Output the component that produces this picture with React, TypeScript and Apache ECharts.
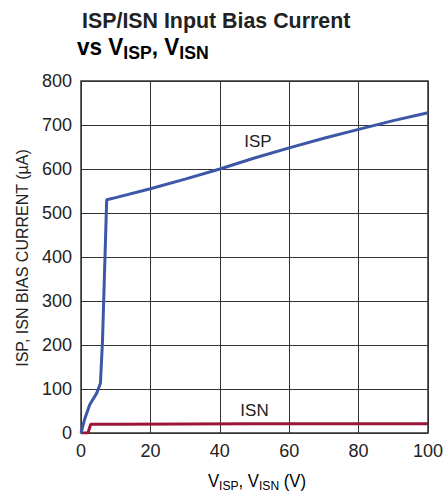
import React, { useEffect, useRef } from "react";
import * as echarts from "echarts";

const ispX = [0, 1, 2.5, 4.5, 5.6, 6.2, 7.4, 10, 20, 30, 40, 50, 60, 70, 80, 90, 100];
const ispY = [0, 30, 64, 90, 113, 210, 530, 535, 555, 577, 600, 625, 648, 670, 690, 710, 728];
const isnX = [0, 1, 2, 2.8, 10, 50, 100];
const isnY = [0, 0, 0, 20, 20, 21, 21];

const FONT = "'Liberation Sans', Arial, sans-serif";
const BLUE = "#3b57a6";
const RED = "#9a1538";

export default function App() {
  const ref = useRef<HTMLDivElement>(null);
  useEffect(() => {
    const chart = echarts.init(ref.current!, null, { renderer: "svg" });
    const sub = { fontSize: 13, lineHeight: 14, padding: [9, 0, 0, 0], fontFamily: FONT, color: "#222" };
    const mpLabel = (t: string) => ({
      show: true, position: "inside", formatter: t, fontFamily: FONT, fontSize: 17, color: "#222",
    });
    chart.setOption({
      animation: false,
      grid: { left: 81, top: 81, right: 14, bottom: 61, show: true, borderColor: "#333", borderWidth: 1.5 },
      xAxis: {
        type: "value", min: 0, max: 100, interval: 20,
        axisLine: { show: false }, axisTick: { show: false },
        splitLine: { lineStyle: { color: "#333", width: 1 } },
        axisLabel: { fontFamily: FONT, fontSize: 18, color: "#222", margin: 9 },
      },
      yAxis: {
        type: "value", min: 0, max: 800, interval: 100,
        axisLine: { show: false }, axisTick: { show: false },
        splitLine: { lineStyle: { color: "#333", width: 1 } },
        axisLabel: { fontFamily: FONT, fontSize: 18, color: "#222", margin: 9 },
      },
      series: [
        {
          type: "line", data: ispX.map((x, i) => [x, ispY[i]]), showSymbol: false, symbol: "none",
          lineStyle: { color: BLUE, width: 3 }, z: 3,
          markPoint: {
            symbol: "circle", symbolSize: 1, itemStyle: { color: "transparent" },
            label: mpLabel("ISP"),
            data: [{ coord: [51, 662] }],
          },
        },
        {
          type: "line", data: isnX.map((x, i) => [x, isnY[i]]), showSymbol: false, symbol: "none",
          lineStyle: { color: RED, width: 3 }, z: 2,
          markPoint: {
            symbol: "circle", symbolSize: 1, itemStyle: { color: "transparent" },
            label: mpLabel("ISN"),
            data: [{ coord: [50, 52] }],
          },
        },
      ],
      graphic: [
        {
          type: "text", x: 82, y: 8.5, scaleX: 0.93,
          style: { text: "ISP/ISN Input Bias Current", fontFamily: FONT, fontWeight: "bold", fontSize: 23, fill: "#222" },
        },
        {
          type: "text", x: 77, y: 35, scaleX: 0.98,
          style: {
            text: "{b|vs V}{s|ISP}{b|, V}{s|ISN}",
            rich: {
              b: { fontFamily: FONT, fontWeight: "bold", fontSize: 23, lineHeight: 23, color: "#222" },
              s: { fontFamily: FONT, color: "#222", fontWeight: "bold", fontSize: 18, lineHeight: 18, padding: [12, 0, 0, 0] },
            },
          },
        },
        {
          type: "text", x: 257, y: 481, scaleX: 0.93,
          style: {
            text: "{b|V}{s|ISP}{b|, V}{s|ISN}{b| (V)}",
            align: "center", verticalAlign: "middle",
            rich: {
              b: { fontFamily: FONT, fontSize: 18, lineHeight: 18, color: "#222" },
              s: sub,
            },
          },
        },
        {
          type: "text", x: 22, y: 258, rotation: Math.PI / 2,
          style: {
            text: "ISP, ISN BIAS CURRENT (µA)", align: "center", verticalAlign: "middle",
            fontFamily: FONT, fontSize: 16, fill: "#222",
          },
        },
      ],
    });
    return () => chart.dispose();
  }, []);
  return <div ref={ref} style={{ position: "fixed", left: 0, top: 0, width: 446, height: 494, background: "#fff" }} />;
}
